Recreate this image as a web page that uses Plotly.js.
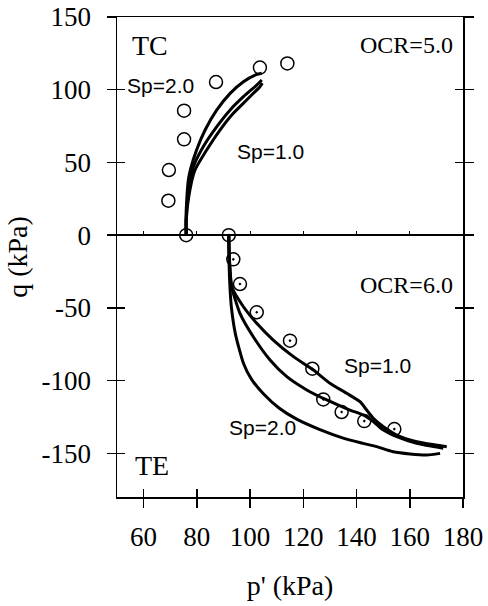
<!DOCTYPE html>
<html>
<head>
<meta charset="utf-8">
<script src="https://cdn.plot.ly/plotly-3.0.1.min.js"></script>
<style>html,body{margin:0;padding:0;background:#fff;}#chart{width:488px;height:606px;}</style>
</head>
<body>
<div id="chart"></div>
<script>
// ---- Data (p' in kPa, q in kPa) ----
// Triaxial compression (TC), OCR = 5.0 — measured
var tcMeasP = [76, 69.3, 69.5, 75.2, 75.2, 87.2, 103.7, 114];
var tcMeasQ = [0, 23.7, 44.8, 65.9, 85.6, 105.3, 115.2, 118.1];
// TC simulations
var tcSp2P = [76, 75.9, 76.2, 76.8, 77.7, 79.9, 83.1, 87.5, 92.5, 97.5, 101.9, 104.4];
var tcSp2Q = [0, 10, 24.2, 37.9, 46, 58.6, 72.3, 86.1, 97.5, 105.5, 110.1, 111.3];
var tcMidP = [76, 76.0, 76.8, 78.7, 82.4, 87.5, 92.5, 97.5, 102.5, 104.4];
var tcMidQ = [0, 10, 28.8, 47.1, 60.8, 74.6, 86.1, 95.2, 103.2, 106.7];
var tcSp1P = [76, 76.0, 77.0, 79.3, 83.7, 88.7, 93.7, 98.7, 103.7, 104.6];
var tcSp1Q = [0, 10, 27, 44.8, 58.6, 72.3, 83.8, 92.9, 102.1, 104.5];

// Triaxial extension (TE), OCR = 6.0 — measured
var teMeasP = [92, 93.7, 96.2, 102.5, 115.0, 123.4, 127.5, 134.4, 142.9, 154.2];
var teMeasQ = [0, -16.6, -33.6, -53.0, -72.5, -91.8, -112.9, -121.6, -127.8, -133.3];
// TE simulations
var teSp1P = [92, 92.2, 93.1, 97.5, 102.5, 108.7, 116.3, 123.8, 130.0, 136.3, 141.3, 143.8, 146.3, 150.1, 155.1, 162.6, 173.9];
var teSp1Q = [0, -15, -35.4, -49.2, -60.6, -72.1, -83.5, -92.7, -101.8, -108.7, -114.5, -120.2, -125.9, -131.7, -137.4, -142.0, -145.4];
var teMidP = [92, 92.2, 93.1, 96.2, 101.2, 107.5, 113.8, 121.3, 128.8, 137.5, 142.5, 146.3, 150.1, 155.1, 162.6, 172.6];
var teMidQ = [0, -15, -35.4, -53.7, -69.8, -85.8, -97.3, -106.4, -113.3, -120.2, -123.6, -128.2, -134.0, -138.5, -143.1, -146.5];
var teSp2P = [92, 92.1, 92.5, 93.0, 94.5, 97.5, 100.5, 105.0, 111.0, 117.5, 126.0, 135.0, 142.5, 147.6, 153.8, 160.1, 166.4, 171.4];
var teSp2Q = [0, -19.3, -37.7, -50, -68, -88, -99, -109, -119, -126.5, -133.5, -139.5, -143.1, -145.4, -148.9, -150.4, -151.1, -150.0];

// Axis ticks
var xTicks = [60, 80, 100, 120, 140, 160, 180];
var yTicks = [-150, -100, -50, 0, 50, 100, 150];

var serif = 'Liberation Serif';
var sans = 'Liberation Sans';

function simLine(x, y) {
  return {x: x, y: y, type: 'scatter', mode: 'lines', line: {color: '#000', width: 3, shape: 'spline', smoothing: 0.6}, showlegend: false, hoverinfo: 'skip'};
}

var traces = [
  simLine(tcSp2P, tcSp2Q), simLine(tcMidP, tcMidQ), simLine(tcSp1P, tcSp1Q),
  simLine(teSp1P, teSp1Q), simLine(teMidP, teMidQ), simLine(teSp2P, teSp2Q),
  {x: tcMeasP, y: tcMeasQ, type: 'scatter', mode: 'markers', showlegend: false,
   marker: {symbol: 'circle-open', size: 13, color: '#000', line: {width: 1.5, color: '#000'}}},
  {x: teMeasP, y: teMeasQ, type: 'scatter', mode: 'markers', showlegend: false,
   marker: {symbol: 'circle-open-dot', size: 13, color: '#000', line: {width: 1.5, color: '#000'}}},
  {x: [], y: [], xaxis: 'x2', yaxis: 'y2', type: 'scatter', showlegend: false},
  {x: [], y: [], xaxis: 'x3', yaxis: 'y', type: 'scatter', showlegend: false}
];

var xr = [50, 180], yr = [-180, 150];
var zeroPos = (0 - yr[0]) / (yr[1] - yr[0]);

var layout = {
  width: 488, height: 606,
  margin: {l: 117, r: 25, t: 17, b: 109},
  paper_bgcolor: '#fff', plot_bgcolor: '#fff',
  showlegend: false,
  xaxis: {
    range: xr, tickvals: xTicks, ticktext: xTicks.map(String),
    ticks: 'outside', ticklen: 9, tickwidth: 1.5, tickcolor: '#000',
    showline: true, linecolor: '#000', linewidth: 1.5, mirror: true,
    showgrid: false, zeroline: false, automargin: false,
    ticklabelstandoff: 6,
    tickfont: {family: serif, size: 27, color: '#000'},
    title: {text: "p' (kPa)", font: {family: serif, size: 28, color: '#000'}, standoff: 24}
  },
  xaxis2: {
    range: xr, tickvals: xTicks, overlaying: 'x', anchor: 'y2', side: 'bottom',
    ticks: 'inside', ticklen: 8, tickwidth: 1.5, tickcolor: '#000',
    showticklabels: false, showgrid: false, zeroline: false, showline: false
  },
  xaxis3: {
    range: xr, tickvals: [60, 80, 100, 120, 140, 160], overlaying: 'x', anchor: 'free', position: zeroPos, side: 'bottom',
    ticks: 'inside', ticklen: 4, tickwidth: 1, tickcolor: '#000',
    showticklabels: false, showgrid: false, zeroline: false, showline: false
  },
  yaxis: {
    range: yr, tickvals: yTicks, ticktext: yTicks.map(String),
    ticks: 'outside', ticklen: 9, tickwidth: 1.5, tickcolor: '#000',
    showline: true, linecolor: '#000', linewidth: 1.5, mirror: 'ticks',
    showgrid: false, zeroline: true, zerolinecolor: '#000', zerolinewidth: 1.5,
    automargin: false, ticklabelstandoff: 10,
    tickfont: {family: serif, size: 27, color: '#000'},
    title: {text: 'q (kPa)', font: {family: serif, size: 28, color: '#000'}, standoff: 6}
  },
  yaxis2: {
    range: yr, tickvals: yTicks, overlaying: 'y', anchor: 'x2', side: 'left',
    ticks: 'inside', ticklen: 8, tickwidth: 1.5, tickcolor: '#000', mirror: 'ticks',
    showticklabels: false, showgrid: false, zeroline: false, showline: false
  },
  annotations: [
    {x: 62.4, y: 130.7, text: 'TC', showarrow: false, font: {family: serif, size: 28, color: '#000'}},
    {x: 63.2, y: -158, text: 'TE', showarrow: false, font: {family: serif, size: 28, color: '#000'}},
    {x: 158.6, y: 130.7, text: 'OCR=5.0', showarrow: false, font: {family: serif, size: 24, color: '#000'}},
    {x: 158.6, y: -34.3, text: 'OCR=6.0', showarrow: false, font: {family: serif, size: 24, color: '#000'}},
    {x: 66.5, y: 103.2, text: 'Sp=2.0', showarrow: false, font: {family: sans, size: 21, color: '#000'}},
    {x: 107.5, y: 57.2, text: 'Sp=1.0', showarrow: false, font: {family: sans, size: 21, color: '#000'}},
    {x: 147.7, y: -89.3, text: 'Sp=1.0', showarrow: false, font: {family: sans, size: 21, color: '#000'}},
    {x: 104.5, y: -131.9, text: 'Sp=2.0', showarrow: false, font: {family: sans, size: 21, color: '#000'}}
  ]
};

Plotly.newPlot('chart', traces, layout, {staticPlot: true, displayModeBar: false});
</script>
</body>
</html>
